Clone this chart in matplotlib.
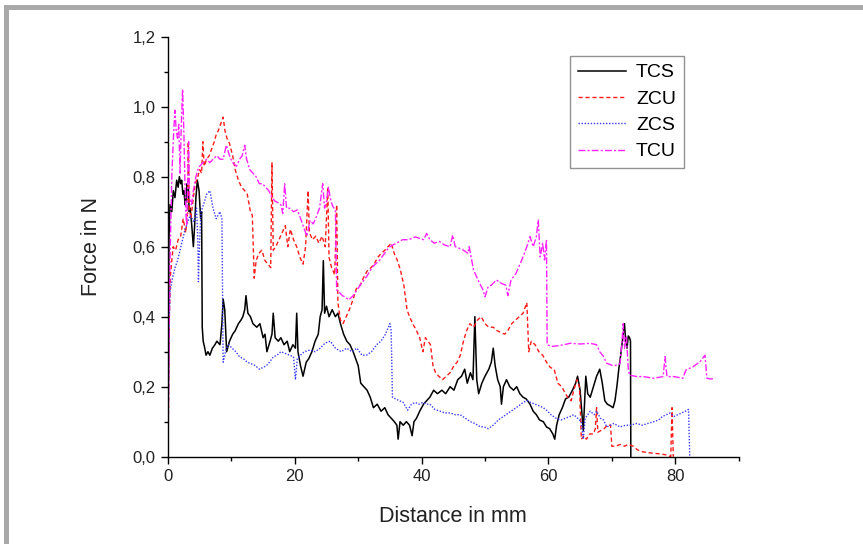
import matplotlib
matplotlib.use("Agg")
import matplotlib.pyplot as plt
from matplotlib.patches import Rectangle
from matplotlib.ticker import MultipleLocator, FuncFormatter

plt.rcParams['font.family'] = ['Liberation Sans', 'DejaVu Sans']

# series: (distance in mm, force in N)
tcs = [(0, 0.0), (0.15, 0.62), (0.32, 0.72), (0.6, 0.70), (0.84, 0.76), (1.1, 0.74), (1.37, 0.79),
       (1.6, 0.77), (1.79, 0.80), (2.0, 0.78), (2.16, 0.79), (2.35, 0.75), (2.52, 0.76), (2.7, 0.72),
       (2.84, 0.73), (3.0, 0.78), (3.2, 0.77), (3.35, 0.70), (3.5, 0.71), (3.75, 0.66), (4.0, 0.60),
       (4.2, 0.66), (4.4, 0.74), (4.63, 0.79), (4.9, 0.76), (5.15, 0.68), (5.3, 0.70), (5.4, 0.37),
       (5.55, 0.33), (5.8, 0.31), (6.0, 0.29), (6.3, 0.30), (6.6, 0.29), (7.0, 0.31), (7.4, 0.32),
       (7.7, 0.33), (8.2, 0.32), (8.5, 0.38), (8.7, 0.45), (8.95, 0.42), (9.25, 0.30), (9.7, 0.33),
       (10.2, 0.35), (10.6, 0.36), (11.1, 0.38), (11.5, 0.39), (11.8, 0.40), (12.1, 0.42), (12.3, 0.46),
       (12.6, 0.41), (13.0, 0.40), (13.4, 0.38), (14.0, 0.37), (14.5, 0.38), (15.0, 0.34), (15.3, 0.35),
       (15.6, 0.30), (16.1, 0.33), (16.4, 0.35), (16.6, 0.41), (16.9, 0.34), (17.4, 0.33), (17.8, 0.34),
       (18.3, 0.32), (18.8, 0.33), (19.2, 0.30), (19.7, 0.32), (20.1, 0.31), (20.3, 0.41), (20.5, 0.30),
       (20.9, 0.26), (21.3, 0.23), (21.8, 0.27), (22.2, 0.28), (22.7, 0.30), (23.2, 0.33), (23.7, 0.35),
       (24.0, 0.40), (24.3, 0.42), (24.5, 0.56), (24.7, 0.41), (25.0, 0.43), (25.4, 0.40), (25.9, 0.42),
       (26.4, 0.40), (26.8, 0.41), (27.2, 0.38), (27.7, 0.35), (28.2, 0.33), (28.7, 0.32), (29.2, 0.30),
       (29.6, 0.28), (30.0, 0.26), (30.4, 0.21), (30.9, 0.20), (31.4, 0.19), (31.9, 0.17), (32.4, 0.14),
       (33.0, 0.15), (33.6, 0.13), (34.2, 0.14), (34.7, 0.12), (35.2, 0.11), (35.7, 0.10), (36.1, 0.09),
       (36.3, 0.05), (36.6, 0.10), (37.1, 0.09), (37.6, 0.10), (38.1, 0.09), (38.5, 0.06), (38.8, 0.10),
       (39.2, 0.11), (39.7, 0.13), (40.3, 0.15), (40.8, 0.16), (41.3, 0.17), (41.9, 0.19), (42.5, 0.18),
       (43.2, 0.19), (43.8, 0.18), (44.5, 0.20), (45.1, 0.19), (45.7, 0.22), (46.3, 0.23), (46.8, 0.25),
       (47.2, 0.21), (47.7, 0.24), (48.1, 0.22), (48.4, 0.40), (48.7, 0.22), (49.0, 0.18), (49.5, 0.21),
       (50.0, 0.23), (50.6, 0.25), (51.0, 0.27), (51.3, 0.31), (51.6, 0.26), (52.0, 0.22), (52.4, 0.20),
       (52.6, 0.15), (52.9, 0.20), (53.4, 0.22), (53.9, 0.20), (54.5, 0.19), (55.0, 0.20), (55.5, 0.18),
       (56.0, 0.17), (56.5, 0.165), (57.1, 0.15), (57.6, 0.13), (58.1, 0.12), (58.6, 0.105), (59.2, 0.10),
       (59.7, 0.085), (60.2, 0.08), (60.7, 0.065), (61.0, 0.05), (61.3, 0.09), (61.7, 0.12), (62.2, 0.14),
       (62.7, 0.165), (63.2, 0.17), (63.8, 0.19), (64.3, 0.21), (64.6, 0.23), (65.0, 0.19), (65.3, 0.12),
       (65.5, 0.075), (65.7, 0.15), (65.9, 0.23), (66.2, 0.18), (66.6, 0.17), (67.1, 0.20), (67.6, 0.23),
       (68.1, 0.25), (68.5, 0.21), (68.9, 0.16), (69.3, 0.15), (69.8, 0.145), (70.2, 0.14), (70.5, 0.16),
       (70.8, 0.20), (71.1, 0.25), (71.4, 0.29), (71.8, 0.35), (72.0, 0.38), (72.2, 0.33), (72.4, 0.31),
       (72.6, 0.345), (72.8, 0.34), (72.95, 0.33), (73.0, 0.0)]

zcu = [(0, 0.0), (0.2, 0.40), (0.4, 0.52), (0.8, 0.60), (1.2, 0.59), (1.6, 0.62), (2.0, 0.63),
       (2.4, 0.68), (2.8, 0.64), (3.1, 0.70), (3.2, 0.90), (3.35, 0.72), (3.6, 0.68), (4.0, 0.74),
       (4.3, 0.78), (4.7, 0.80), (5.0, 0.82), (5.3, 0.81), (5.5, 0.90), (5.7, 0.83), (6.1, 0.85),
       (6.5, 0.86), (6.9, 0.88), (7.3, 0.90), (7.6, 0.92), (7.9, 0.93), (8.3, 0.95), (8.7, 0.97),
       (9.0, 0.93), (9.3, 0.91), (9.7, 0.895), (10.2, 0.86), (10.6, 0.82), (11.1, 0.79), (11.6, 0.77),
       (12.1, 0.76), (12.5, 0.75), (13.0, 0.70), (13.3, 0.69), (13.6, 0.51), (13.9, 0.56), (14.3, 0.58),
       (14.8, 0.59), (15.3, 0.56), (15.8, 0.55), (16.2, 0.54), (16.4, 0.84), (16.6, 0.59), (17.0, 0.60),
       (17.5, 0.62), (18.0, 0.64), (18.5, 0.66), (18.9, 0.60), (19.3, 0.65), (19.8, 0.62), (20.3, 0.60),
       (20.8, 0.57), (21.3, 0.55), (21.7, 0.60), (22.1, 0.76), (22.3, 0.64), (22.8, 0.62), (23.3, 0.63),
       (23.8, 0.61), (24.3, 0.63), (24.8, 0.60), (25.2, 0.77), (25.4, 0.57), (25.8, 0.54), (26.3, 0.52),
       (26.6, 0.72), (26.8, 0.44), (27.2, 0.39), (27.6, 0.38), (28.1, 0.40), (28.6, 0.42), (29.2, 0.45),
       (29.7, 0.48), (30.3, 0.49), (30.8, 0.51), (31.4, 0.53), (32.0, 0.54), (32.5, 0.55), (33.1, 0.57),
       (33.6, 0.58), (34.2, 0.59), (34.7, 0.60), (35.2, 0.61), (35.7, 0.58), (36.2, 0.56), (36.7, 0.53),
       (37.2, 0.49), (37.7, 0.42), (38.1, 0.40), (38.6, 0.38), (39.2, 0.36), (39.7, 0.34), (40.2, 0.30),
       (40.6, 0.34), (41.0, 0.33), (41.4, 0.32), (41.8, 0.26), (42.2, 0.24), (42.7, 0.23), (43.3, 0.22),
       (43.9, 0.23), (44.5, 0.24), (45.1, 0.26), (45.6, 0.27), (46.1, 0.29), (46.6, 0.33), (47.1, 0.36),
       (47.6, 0.38), (48.2, 0.37), (48.8, 0.39), (49.4, 0.40), (50.0, 0.38), (50.6, 0.37), (51.3, 0.37),
       (51.9, 0.36), (52.5, 0.355), (53.1, 0.35), (53.6, 0.36), (54.2, 0.38), (54.8, 0.39), (55.4, 0.40),
       (56.0, 0.41), (56.6, 0.44), (56.9, 0.30), (57.3, 0.33), (57.9, 0.32), (58.5, 0.30), (59.1, 0.29),
       (59.7, 0.27), (60.3, 0.255), (60.9, 0.25), (61.5, 0.21), (62.1, 0.20), (62.7, 0.18), (63.2, 0.165),
       (63.6, 0.16), (64.0, 0.19), (64.5, 0.22), (64.9, 0.20), (65.1, 0.10), (65.2, 0.05), (65.6, 0.06),
       (66.0, 0.05), (66.5, 0.065), (67.1, 0.065), (67.4, 0.08), (67.6, 0.14), (67.8, 0.07), (68.3, 0.075),
       (68.8, 0.08), (69.3, 0.09), (69.8, 0.09), (70.0, 0.03), (70.6, 0.03), (71.3, 0.035), (72.0, 0.03),
       (72.6, 0.035), (73.4, 0.03), (74.0, 0.02), (74.6, 0.015), (75.5, 0.012), (76.6, 0.01), (77.6, 0.008),
       (78.7, 0.005), (79.3, 0.0), (79.5, 0.14), (79.7, 0.0)]

zcs = [(0, 0.0), (0.1, 0.30), (0.3, 0.47), (0.7, 0.51), (1.1, 0.54), (1.5, 0.56), (1.9, 0.59),
       (2.3, 0.62), (2.7, 0.65), (3.1, 0.67), (3.5, 0.69), (3.8, 0.68), (4.1, 0.67), (4.5, 0.71),
       (4.7, 0.62), (4.8, 0.50), (5.0, 0.62), (5.2, 0.70), (5.6, 0.72), (6.1, 0.75), (6.6, 0.76),
       (7.1, 0.71), (7.6, 0.68), (7.9, 0.69), (8.2, 0.70), (8.5, 0.68), (8.7, 0.27), (9.2, 0.31),
       (9.6, 0.32), (10.1, 0.31), (10.7, 0.30), (11.3, 0.285), (11.9, 0.28), (12.5, 0.27), (13.2, 0.265),
       (13.8, 0.26), (14.4, 0.25), (15.0, 0.255), (15.5, 0.26), (16.0, 0.27), (16.6, 0.285), (17.2, 0.29),
       (17.8, 0.30), (18.5, 0.295), (19.2, 0.29), (19.8, 0.285), (20.1, 0.22), (20.4, 0.28), (20.9, 0.29),
       (21.5, 0.30), (22.4, 0.305), (23.2, 0.30), (24.0, 0.31), (24.8, 0.325), (25.6, 0.33), (26.4, 0.31),
       (27.3, 0.30), (28.2, 0.31), (29.0, 0.30), (29.8, 0.31), (30.6, 0.29), (31.3, 0.29), (32.1, 0.30),
       (32.9, 0.32), (33.6, 0.33), (34.3, 0.35), (35.0, 0.38), (35.2, 0.36), (35.4, 0.17), (35.9, 0.165),
       (36.5, 0.16), (37.1, 0.155), (37.8, 0.133), (38.4, 0.15), (39.0, 0.155), (39.6, 0.15), (40.2, 0.155),
       (40.8, 0.15), (41.3, 0.15), (42.1, 0.135), (42.9, 0.13), (43.7, 0.125), (44.5, 0.125), (45.3, 0.12),
       (46.1, 0.12), (46.9, 0.11), (47.7, 0.10), (48.4, 0.095), (49.2, 0.086), (49.9, 0.085), (50.5, 0.08),
       (51.3, 0.09), (52.1, 0.105), (52.9, 0.115), (53.7, 0.125), (54.5, 0.135), (55.3, 0.145), (56.0, 0.155),
       (56.6, 0.16), (57.2, 0.155), (57.9, 0.15), (58.6, 0.145), (59.2, 0.14), (59.7, 0.133), (60.4, 0.12),
       (61.2, 0.11), (62.0, 0.105), (62.7, 0.11), (63.4, 0.115), (64.0, 0.12), (64.6, 0.11), (65.2, 0.10),
       (65.5, 0.05), (65.8, 0.11), (66.6, 0.13), (67.2, 0.12), (67.6, 0.13), (68.2, 0.11), (68.7, 0.105),
       (69.2, 0.085), (69.8, 0.09), (70.3, 0.095), (71.3, 0.085), (72.2, 0.09), (73.0, 0.09), (73.9, 0.095),
       (74.8, 0.09), (75.7, 0.095), (76.6, 0.10), (77.4, 0.105), (78.0, 0.115), (78.6, 0.12), (79.2, 0.125),
       (79.8, 0.115), (80.4, 0.12), (81.0, 0.125), (81.6, 0.13), (82.1, 0.135), (82.3, 0.0)]

tcu = [(0, 0.0), (0.3, 0.55), (0.6, 0.80), (0.9, 0.93), (1.1, 0.99), (1.3, 0.93), (1.5, 0.91),
       (1.7, 0.95), (1.9, 0.81), (2.1, 0.95), (2.3, 1.05), (2.5, 0.93), (2.65, 0.80), (2.8, 0.70),
       (2.95, 0.66), (3.1, 0.78), (3.25, 0.90), (3.4, 0.74), (3.7, 0.72), (4.0, 0.76), (4.4, 0.80),
       (4.7, 0.82), (5.0, 0.83), (5.5, 0.84), (6.1, 0.85), (6.6, 0.84), (7.1, 0.85), (7.7, 0.86),
       (8.2, 0.85), (8.7, 0.85), (9.2, 0.89), (9.7, 0.86), (10.2, 0.84), (10.8, 0.83), (11.3, 0.85),
       (11.7, 0.86), (12.1, 0.89), (12.4, 0.85), (12.9, 0.82), (13.4, 0.81), (13.9, 0.80), (14.4, 0.78),
       (14.9, 0.78), (15.4, 0.77), (15.9, 0.76), (16.4, 0.74), (16.9, 0.73), (17.4, 0.725), (17.8, 0.72),
       (18.1, 0.695), (18.4, 0.78), (18.7, 0.71), (19.2, 0.71), (19.8, 0.70), (20.4, 0.705), (21.0, 0.676),
       (21.5, 0.65), (21.9, 0.63), (22.4, 0.675), (22.9, 0.665), (23.4, 0.686), (23.9, 0.71), (24.4, 0.78),
       (24.7, 0.71), (25.0, 0.73), (25.3, 0.77), (25.7, 0.73), (26.0, 0.715), (26.4, 0.705), (26.6, 0.476),
       (27.0, 0.47), (27.5, 0.46), (27.9, 0.457), (28.5, 0.448), (29.2, 0.46), (29.8, 0.476), (30.5, 0.495),
       (31.3, 0.514), (32.3, 0.543), (33.4, 0.562), (34.5, 0.59), (35.0, 0.60), (36.0, 0.61), (37.0, 0.62),
       (38.0, 0.62), (39.0, 0.628), (40.3, 0.62), (40.8, 0.638), (41.3, 0.62), (42.0, 0.61), (42.8, 0.615),
       (43.6, 0.605), (44.5, 0.60), (44.9, 0.633), (45.3, 0.60), (46.0, 0.595), (46.6, 0.59), (47.3, 0.581),
       (47.5, 0.60), (48.2, 0.533), (48.9, 0.505), (49.7, 0.476), (50.0, 0.457), (50.5, 0.486), (51.0, 0.49),
       (51.8, 0.505), (52.6, 0.495), (53.3, 0.49), (53.6, 0.46), (54.1, 0.505), (54.9, 0.524), (55.8, 0.562),
       (56.6, 0.60), (57.1, 0.629), (57.6, 0.60), (58.1, 0.629), (58.4, 0.676), (58.7, 0.571), (59.1, 0.61),
       (59.4, 0.562), (59.7, 0.62), (59.8, 0.32), (60.5, 0.315), (61.5, 0.317), (62.5, 0.32), (63.4, 0.324),
       (65.0, 0.322), (66.6, 0.324), (67.6, 0.32), (68.1, 0.30), (68.7, 0.286), (69.2, 0.267), (70.2, 0.26),
       (71.0, 0.262), (71.3, 0.267), (71.6, 0.33), (71.8, 0.38), (72.0, 0.31), (72.3, 0.345), (72.6, 0.25),
       (72.8, 0.233), (73.9, 0.229), (75.0, 0.229), (76.6, 0.224), (78.1, 0.229), (78.4, 0.286), (78.7, 0.229),
       (79.8, 0.229), (81.2, 0.224), (81.7, 0.248), (82.8, 0.257), (83.9, 0.271), (84.7, 0.29), (85.0, 0.224),
       (85.6, 0.222), (86.3, 0.224)]

labels = ["TCS", "ZCU", "ZCS", "TCU"]

fig = plt.figure(figsize=(8.63, 5.44), dpi=100)
fig.patch.set_facecolor("white")
# grey frame of the scanned page
fig.patches.append(Rectangle((4 / 863, 1 - 10 / 544), 1, 5 / 544, transform=fig.transFigure,
                             facecolor="#a9a9a9", edgecolor="none"))
fig.patches.append(Rectangle((4 / 863, 0), 5 / 863, 1 - 5 / 544, transform=fig.transFigure,
                             facecolor="#a9a9a9", edgecolor="none"))

ax = fig.add_axes([168 / 863, 1 - 456.7 / 544, (738.6 - 168) / 863, (456.7 - 36.7) / 544])

styles = [dict(color="black", lw=1.1, ls="-"),
          dict(color="#ff1a1a", lw=1.0, ls=(0, (3, 2))),
          dict(color="#3a3aff", lw=1.0, ls=(0, (1, 1.2))),
          dict(color="#ff22ff", lw=1.0, ls=(0, (5, 1.5, 1.5, 1.5)))]

for data, lab, st in zip([tcs, zcu, zcs, tcu], labels, styles):
    xs = [p[0] for p in data]
    ys = [p[1] for p in data]
    ax.plot(xs, ys, label=lab, **st)

ax.set_xlim(0, 90)
ax.set_ylim(0, 1.2)
ax.xaxis.set_major_locator(MultipleLocator(20))
ax.xaxis.set_minor_locator(MultipleLocator(10))
ax.yaxis.set_major_locator(MultipleLocator(0.2))
ax.yaxis.set_minor_locator(MultipleLocator(0.1))
ax.yaxis.set_major_formatter(FuncFormatter(lambda v, p: f"{v:.1f}".replace(".", ",")))

for s in ["top", "right"]:
    ax.spines[s].set_visible(False)
for s in ["left", "bottom"]:
    ax.spines[s].set_linewidth(1.0)
ax.tick_params(which="major", direction="out", length=5, width=1, labelsize=12, pad=4)
ax.tick_params(which="minor", direction="out", length=3, width=1)
for lbl in ax.get_xticklabels() + ax.get_yticklabels():
    lbl.set_color("#222222")

ax.set_xlabel("Distance in mm", fontsize=15.5, labelpad=16, color="#222222")
ax.set_ylabel("Force in N", fontsize=15.5, labelpad=22, color="#222222")

leg = ax.legend(loc="upper left", bbox_to_anchor=(570 / 863, 1 - 56 / 544),
                bbox_transform=fig.transFigure, fontsize=14, frameon=True, fancybox=False,
                handlelength=2.5, labelspacing=0.45, borderpad=0.4, handletextpad=0.5,
                borderaxespad=0)
leg.get_frame().set_edgecolor("#777777")
leg.get_frame().set_linewidth(1.0)

fig.savefig("out.png", dpi=100)
